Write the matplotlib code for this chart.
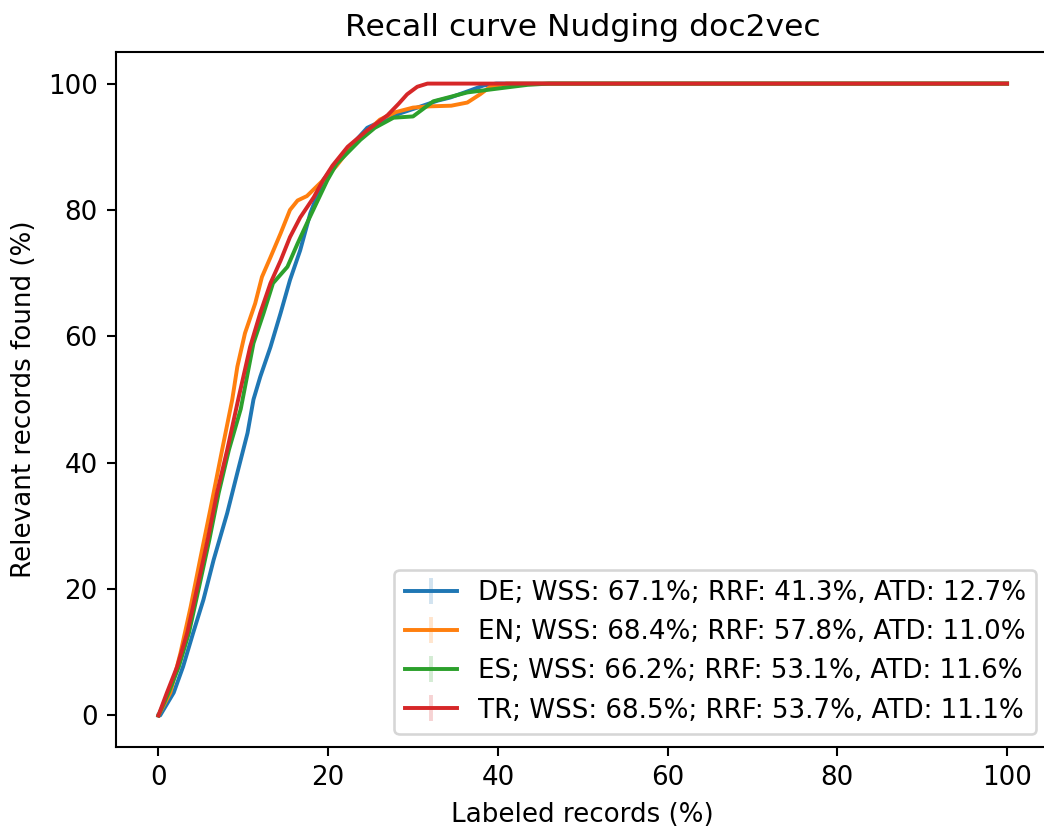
import matplotlib
matplotlib.use("Agg")
import matplotlib.pyplot as plt
import numpy as np

# Recall curves (x: labeled %, y: relevant found %)
de_x = [0, 0.2, 1.8, 2.9, 4.1, 5.3, 6.5, 8.1, 9.3, 10.5, 11.2, 12.0, 13.2, 14.4, 15.5,
        16.7, 17.9, 19.4, 21.0, 22.6, 24.6, 26.5, 28.5, 30.5, 32.9, 34.4, 36.7, 38.3, 39.8, 100]
de_y = [0, 0, 3.6, 7.7, 13.1, 18.3, 24.6, 32.0, 38.4, 44.7, 50.0, 53.6, 58.3, 63.7, 68.9,
        73.6, 79.5, 84.7, 87.6, 90.0, 93.0, 94.2, 95.3, 96.2, 97.3, 97.8, 98.9, 99.7, 100, 100]

en_x = [0, 1.4, 2.6, 3.8, 4.9, 6.1, 7.5, 8.7, 9.3, 10.2, 11.4, 12.2, 13.2, 14.4, 15.5,
        16.4, 17.5, 19.4, 21.0, 23.0, 26.1, 28.0, 30.0, 32.0, 34.5, 36.4, 37.9, 39.1, 41.0, 100]
en_y = [0, 3.6, 9.9, 17.2, 24.6, 32.5, 42.0, 50.0, 55.2, 60.5, 65.2, 69.4, 72.5, 76.3, 80.0,
        81.5, 82.2, 84.7, 87.0, 90.5, 94.3, 95.5, 96.2, 96.4, 96.5, 97.0, 98.3, 99.5, 100, 100]

es_x = [0, 1.2, 2.4, 3.6, 4.8, 6.0, 7.1, 8.3, 9.7, 11.2, 12.4, 13.5, 15.2, 16.4, 17.5,
        19.9, 21.0, 23.8, 25.5, 27.7, 30.0, 32.4, 36.4, 41.1, 43.5, 46.0, 100]
es_y = [0, 3.6, 7.7, 13.1, 20.4, 27.8, 35.2, 42.0, 48.5, 58.9, 63.7, 68.4, 71.0, 74.7, 77.9,
        84.7, 87.3, 91.1, 93.0, 94.6, 94.8, 97.2, 98.6, 99.4, 99.8, 100, 100]

tr_x = [0, 1.0, 2.2, 3.4, 4.6, 5.8, 6.9, 8.1, 9.4, 10.8, 12.0, 13.2, 14.4, 15.5, 16.7,
        18.3, 19.4, 20.5, 22.3, 24.5, 27.0, 28.3, 29.3, 30.5, 31.7, 100]
tr_y = [0, 3.6, 7.7, 13.1, 20.4, 27.8, 35.2, 42.0, 50.0, 58.3, 63.7, 68.4, 72.0, 75.7, 78.8,
        82.0, 84.7, 87.0, 90.0, 92.5, 95.0, 96.8, 98.3, 99.5, 100, 100]

labels = [
    "DE; WSS: 67.1%; RRF: 41.3%, ATD: 12.7%",
    "EN; WSS: 68.4%; RRF: 57.8%, ATD: 11.0%",
    "ES; WSS: 66.2%; RRF: 53.1%, ATD: 11.6%",
    "TR; WSS: 68.5%; RRF: 53.7%, ATD: 11.1%",
]
colors = ["tab:blue", "tab:orange", "tab:green", "tab:red"]

DPI = 188
fig = plt.figure(figsize=(1044 / DPI, 829 / DPI), dpi=DPI)
ax = fig.add_axes([116 / 1044, 1 - 747 / 829, (1049.5 - 116) / 1044, (747 - 52) / 829])

curves = [(de_x, de_y), (en_x, en_y), (es_x, es_y), (tr_x, tr_y)]
for (x, y), lab, c in zip(curves, labels, colors):
    cont = ax.errorbar(x, y, yerr=np.zeros(len(y)), color=c, ecolor=c, label=lab)
    for bar in cont.lines[2]:
        bar.set_alpha(0.2)

ax.set_xlim(-5, 105)
ax.set_ylim(-5, 105)
# the reference is cropped just before the right spine
ax.spines["right"].set_visible(False)

ax.set_title("Recall curve Nudging doc2vec")
ax.set_xlabel("Labeled records (%)")
ax.set_ylabel("Relevant records found (%)")
ax.legend(loc="lower right", borderaxespad=0.5)

fig.savefig("out.png", dpi=DPI)
